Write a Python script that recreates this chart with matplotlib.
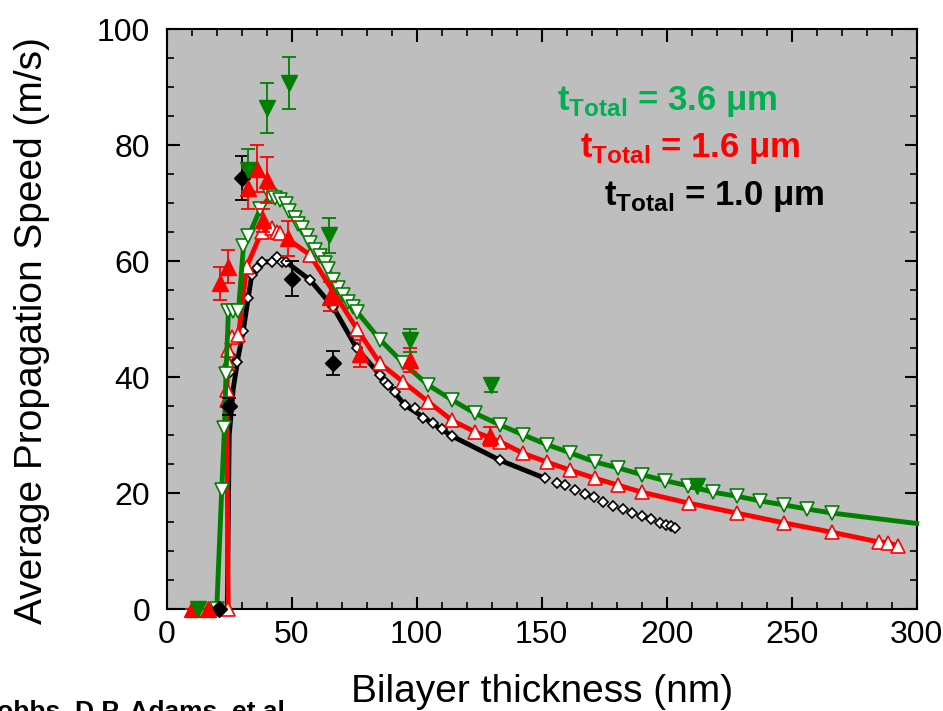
import numpy as np
import matplotlib.pyplot as plt

plt.rcParams['font.family'] = ['Liberation Sans', 'DejaVu Sans']
plt.rcParams['mathtext.fontset'] = 'custom'
plt.rcParams['mathtext.rm'] = 'Liberation Sans'
plt.rcParams['mathtext.bf'] = 'Liberation Sans:bold'

# model curves, t_total = 3.6 um (open down triangles)
g_x = [20.0, 22.0, 23.1, 23.7, 24.7, 26.7, 28.7, 30.7, 32.7, 37.4, 41.4, 43.4,
       45.4, 47.8, 49.0, 51.4, 52.6, 54.2, 56.2, 57.4, 59.4, 61.4, 63.4, 64.6,
       66.5, 68.5, 70.5, 72.5, 74.5, 76.1, 85.3, 94.5, 104.5, 114.1, 123.3,
       133.3, 142.5, 152.1, 161.3, 171.3, 180.5, 190.1, 199.3, 208.5, 218.5,
       228.1, 237.3, 246.9, 256.1, 266.1]
g_y = [0.0, 20.6, 31.2, 40.5, 51.5, 51.5, 51.5, 62.6, 64.3, 69.0, 71.2, 70.9,
       70.6, 69.8, 68.6, 67.4, 66.5, 65.7, 64.3, 63.1, 62.0, 60.9, 59.7, 58.7,
       56.8, 55.4, 54.2, 53.0, 52.1, 51.3, 46.5, 42.5, 38.7, 36.1, 33.8,
       31.8, 30.1, 28.4, 27.0, 25.4, 24.4, 23.2, 22.2, 21.3, 20.2,
       19.5, 18.7, 18.0, 17.3, 16.6]
g_end = (300.0, 14.8)

# t_total = 1.6 um (open up triangles)
r_x = [24.6, 24.0, 24.0, 24.6, 24.6, 26.0, 28.7, 32.0, 38.0, 42.0, 44.0, 45.3,
       57.3, 76.0, 85.3, 94.6, 104.6, 114.0, 123.3, 133.3, 142.6, 152.0, 161.3,
       171.3, 180.6, 190.0, 209.0, 228.0, 247.0, 266.0, 285.0, 288.6, 292.6]
r_y = [0.0, 36.1, 37.8, 42.4, 44.7, 47.0, 47.3, 59.1, 65.1, 65.7, 65.0, 64.8,
       61.1, 48.4, 42.4, 39.2, 35.8, 32.6, 30.6, 28.9, 26.9, 25.4, 24.0,
       22.6, 21.4, 20.2, 18.3, 16.6, 14.9, 13.3, 11.6, 11.5, 10.9]

# t_total = 1.0 um (open diamonds, line ends before the last points)
k_x = [25.5, 26.0, 27.0, 28.0, 30.6, 32.6, 34.0, 36.0, 38.0, 42.0, 44.0, 46.0,
       47.7, 57.3, 66.6, 76.0, 85.3, 87.3, 88.6, 91.3, 95.3, 99.3, 102.6, 106.4,
       110.0, 114.0, 133.3, 151.3, 156.0, 159.3, 163.3, 167.3, 171.0, 174.6,
       178.6, 182.4, 186.2, 190.0, 193.6, 197.3, 199.7, 201.6, 203.5]
k_y = [41.0, 43.5, 42.5, 42.7, 48.0, 53.7, 57.6, 58.8, 59.9, 59.9, 60.8, 59.9,
       59.9, 56.8, 52.1, 45.0, 40.4, 39.2, 38.6, 37.5, 35.2, 34.7, 33.0, 32.1,
       31.1, 29.9, 25.7, 22.6, 21.8, 21.4, 20.6, 19.9, 19.4, 18.5,
       17.8, 17.3, 16.6, 16.1, 15.5, 14.9, 14.5, 14.4, 14.0]
k_line_x = [24.2, 25.0, 26.6, 28.6, 30.6, 32.6, 34.0, 36.0, 38.0, 42.0, 44.0,
            47.7, 57.3, 66.6, 76.0, 85.3, 95.3, 114.0, 133.3, 151.3]
k_line_y = [0.0, 30.0, 38.0, 43.5, 48.0, 53.7, 57.6, 58.8, 59.9, 59.9, 60.8,
            59.9, 56.8, 52.1, 45.0, 40.4, 35.2, 29.9, 25.7, 22.6]

# measured points with error bars
g_exp_x = [12.6, 32.6, 40.0, 48.9, 65.0, 97.3, 129.6, 212.0]
g_exp_y = [0.0, 75.7, 86.4, 90.7, 64.5, 46.4, 38.7, 21.2]
g_exp_e = [0.0, 3.6, 4.3, 4.5, 3.0, 2.0, 1.2, 0.5]
r_exp_x = [10.0, 16.6, 21.3, 24.6, 32.6, 36.2, 38.6, 40.0, 48.6, 65.3, 77.3, 97.3, 129.3]
r_exp_y = [0.0, 0.0, 56.2, 59.1, 72.6, 76.0, 67.1, 74.0, 64.0, 53.9, 44.1, 43.0, 29.8]
r_exp_e = [0.0, 0.0, 2.8, 2.8, 3.5, 4.0, 2.0, 4.0, 3.0, 2.5, 2.3, 2.0, 1.7]
k_exp_x = [21.0, 25.0, 30.0, 50.2, 66.6]
k_exp_y = [0.0, 35.0, 74.3, 57.0, 42.5]
k_exp_e = [0.0, 1.5, 3.8, 3.0, 2.1]

GREEN = '#008000'
RED = '#ff0000'

fig = plt.figure(figsize=(9.43, 7.11), dpi=100)
ax = fig.add_axes([0.1768, 0.1430, 0.7953, 0.8158])
ax.set_facecolor('#bebebe')

# black
ax.plot(k_line_x, k_line_y, color='black', lw=3.5, zorder=2, clip_on=False)
ax.plot(k_x, k_y, ls='none', marker='D', ms=5.5, mfc='white', mec='black',
        mew=1.2, zorder=2.1, clip_on=False)
# red
ax.plot(r_x, r_y, color=RED, lw=3.5, zorder=3, clip_on=False)
ax.plot(r_x, r_y, ls='none', marker='^', ms=9.5, mfc='white', mec=RED,
        mew=1.2, zorder=3.1, clip_on=False)
# green
ax.plot(g_x + [g_end[0]], g_y + [g_end[1]], color=GREEN, lw=3.5, zorder=4,
        clip_on=False)
ax.plot(g_x, g_y, ls='none', marker='v', ms=9.5, mfc='white', mec=GREEN,
        mew=1.2, zorder=4.1, clip_on=False)

# measured
for xs, ys, es, c, m, s in [(k_exp_x, k_exp_y, k_exp_e, 'black', 'D', 8),
                            (r_exp_x, r_exp_y, r_exp_e, RED, '^', 12),
                            (g_exp_x, g_exp_y, g_exp_e, GREEN, 'v', 12)]:
    eb = ax.errorbar(xs, ys, yerr=es, fmt=m, ms=s, color=c, ecolor=c,
                     elinewidth=1.3, capsize=5, capthick=1.3, zorder=6)
    eb.lines[0].set_clip_on(False)

ax.set_xlim(0, 300)
ax.set_ylim(0, 100)
ax.set_xticks(np.arange(0, 301, 50))
ax.set_xticks(np.arange(0, 301, 10), minor=True)
ax.set_yticks(np.arange(0, 101, 20))
ax.set_yticks(np.arange(0, 101, 5), minor=True)
ax.tick_params(which='both', direction='in', top=True, right=True)
ax.tick_params(which='major', length=9, width=1.5, labelsize=23)
ax.tick_params(axis='x', which='major', pad=8)
ax.tick_params(axis='y', which='major', pad=12)
ax.tick_params(which='minor', length=5, width=1.2)
for sp in ax.spines.values():
    sp.set_linewidth(1.5)

ax.set_xlabel('Bilayer thickness (nm)', fontsize=28)
ax.xaxis.set_label_coords(0.5, -0.112)
ax.set_ylabel('Average Propagation Speed (m/s)', fontsize=28)
ax.yaxis.set_label_coords(-0.155, 0.48)

W, H = 943.0, 711.0
labels = [('3.6', '#00b050', 557, 110), ('1.6', RED, 580, 157),
          ('1.0', 'black', 604, 205)]
for val, c, px, py in labels:
    fig.text(px / W, 1 - py / H, r'$\mathbf{t}_{\mathbf{Total}}$ = ' + val + ' μm',
             color=c, fontsize=25, fontweight='bold', ha='left', va='baseline')

fig.text(292 / W, 1 - 719 / H, 'M.L. Hobbs, D.P. Adams, et al.', fontsize=19,
         fontweight='bold', ha='right', va='baseline')

fig.savefig('out.png', dpi=100)
